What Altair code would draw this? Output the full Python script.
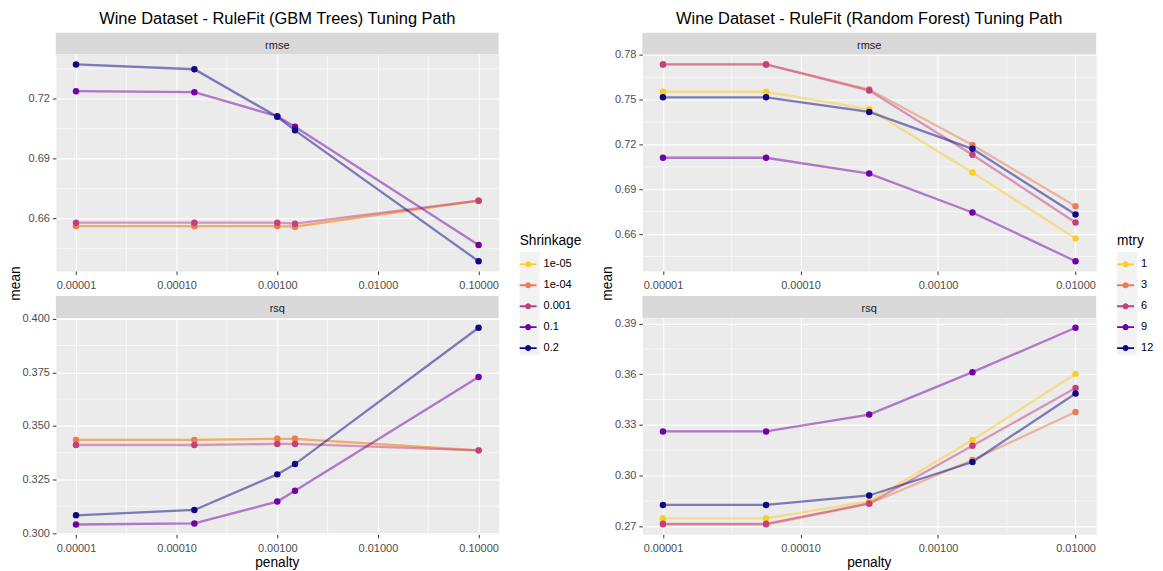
import altair as alt
import pandas as pd
import numpy as np

FONT = "Liberation Sans"

# ---------------- GBM (left) ----------------
gbm_penalty = [0.00001, 0.00015, 0.001, 0.0015, 0.1]
gbm_levels = ["1e-05", "1e-04", "0.001", "0.1", "0.2"]
gbm_rmse = {
    "1e-05": [0.6563, 0.6563, 0.6563, 0.6560, 0.6690],
    "1e-04": [0.6563, 0.6563, 0.6563, 0.6560, 0.6690],
    "0.001": [0.6580, 0.6580, 0.6580, 0.6575, 0.6690],
    "0.1":   [0.7238, 0.7233, 0.7113, 0.7060, 0.6468],
    "0.2":   [0.7372, 0.7348, 0.7110, 0.7042, 0.6387],
}
gbm_rsq = {
    "1e-05": [0.3435, 0.3435, 0.3440, 0.3440, 0.3386],
    "1e-04": [0.3435, 0.3435, 0.3440, 0.3440, 0.3386],
    "0.001": [0.3411, 0.3411, 0.3416, 0.3416, 0.3386],
    "0.1":   [0.3040, 0.3045, 0.3147, 0.3198, 0.3728],
    "0.2":   [0.3083, 0.3108, 0.3274, 0.3322, 0.3958],
}
gbm_xticks = [0.00001, 0.0001, 0.001, 0.01, 0.1]
gbm_xminor = [10 ** -4.5, 10 ** -3.5, 10 ** -2.5, 10 ** -1.5]
gbm_rmse_ticks = [0.66, 0.69, 0.72]
gbm_rmse_minor = [0.645, 0.675, 0.705, 0.735]
gbm_rsq_ticks = [0.300, 0.325, 0.350, 0.375, 0.400]
gbm_rsq_minor = [0.3125, 0.3375, 0.3625, 0.3875]

# ---------------- Random Forest (right) ----------------
rf_penalty = [0.00001, 0.0000562, 0.000316, 0.00178, 0.01]
rf_levels = ["1", "3", "6", "9", "12"]
rf_rmse = {
    "1":  [0.7553, 0.7553, 0.7436, 0.7012, 0.6571],
    "3":  [0.7736, 0.7736, 0.7568, 0.7196, 0.6786],
    "6":  [0.7736, 0.7736, 0.7561, 0.7131, 0.6677],
    "9":  [0.7111, 0.7111, 0.7005, 0.6744, 0.6418],
    "12": [0.7516, 0.7516, 0.7418, 0.7171, 0.6731],
}
rf_rsq = {
    "1":  [0.2747, 0.2747, 0.2847, 0.3210, 0.3602],
    "3":  [0.2710, 0.2710, 0.2833, 0.3092, 0.3376],
    "6":  [0.2714, 0.2714, 0.2835, 0.3176, 0.3518],
    "9":  [0.3261, 0.3261, 0.3361, 0.3612, 0.3875],
    "12": [0.2826, 0.2826, 0.2882, 0.3080, 0.3486],
}
rf_xticks = [0.00001, 0.0001, 0.001, 0.01]
rf_xminor = [10 ** -4.5, 10 ** -3.5, 10 ** -2.5]
rf_rmse_ticks = [0.66, 0.69, 0.72, 0.75, 0.78]
rf_rmse_minor = [0.645, 0.675, 0.705, 0.735, 0.765]
rf_rsq_ticks = [0.27, 0.30, 0.33, 0.36, 0.39]
rf_rsq_minor = [0.285, 0.315, 0.345, 0.375]

palette = ["#FCCE25", "#EE7B51", "#C43F80", "#7301A8", "#0D0887"]

# legend key: short horizontal bar with a dot in the middle
LEGEND_SYMBOL = ("M-1,-0.11L1,-0.11L1,0.11L-1,0.11Z"
                 "M-0.36,0A0.36,0.36,0,1,1,0.36,0A0.36,0.36,0,1,1,-0.36,0Z")


def long_df(penalty, levels, series):
    rows = []
    for lv in levels:
        for p, v in zip(penalty, series[lv]):
            rows.append({"penalty": p, "mean": v, "level": lv})
    return pd.DataFrame(rows)


def expand(vals, log=False):
    lo, hi = min(vals), max(vals)
    if log:
        lo, hi = np.log10(lo), np.log10(hi)
    pad = (hi - lo) * 0.05
    lo, hi = lo - pad, hi + pad
    if log:
        return [float(10 ** lo), float(10 ** hi)]
    return [float(lo), float(hi)]


def panel(df, penalty, xticks, xminor, yticks, yminor, yfmt, width, height,
          strip, levels, legend_title, top, title=None, mean_x=None,
          legend_xy=None, keybg=None):
    xscale = alt.Scale(type="log", domain=expand(penalty, log=True), nice=False, zero=False)
    yscale = alt.Scale(domain=expand(df["mean"].tolist()), nice=False, zero=False)
    xaxis = alt.Axis(values=xticks, format=".5f", title=None, grid=True)
    yaxis = alt.Axis(values=yticks, format=yfmt, title=None, grid=True)
    if top:
        legend = alt.Legend(
            orient="none", legendX=legend_xy[0], legendY=legend_xy[1],
            title=legend_title, symbolType=LEGEND_SYMBOL, symbolSize=289,
            symbolStrokeWidth=0, symbolOpacity=1, labelFontSize=11, titleFontSize=13.75,
            titleFontWeight="normal", titleColor="black", labelColor="black",
            labelOffset=7, rowPadding=7, titlePadding=8, padding=0,
            labelFont=FONT, titleFont=FONT,
        )
    else:
        legend = None
    color = alt.Color("level:N", scale=alt.Scale(domain=levels, range=palette),
                      sort=levels, legend=legend)

    one = pd.DataFrame({"s": [strip]})
    base = alt.Chart(df)
    layers = []
    if top:
        # grey key background of the legend column
        layers.append(
            alt.Chart(one).mark_rect(color="#F2F2F2")
            .encode(x=alt.value(keybg[0]), x2=alt.value(keybg[0] + 20),
                    y=alt.value(keybg[1]), y2=alt.value(keybg[1] + 103))
        )
    minor_x = (
        alt.Chart(pd.DataFrame({"penalty": xminor})).mark_rule(color="white", strokeWidth=0.6)
        .encode(x=alt.X("penalty:Q", scale=xscale, axis=xaxis))
    )
    minor_y = (
        alt.Chart(pd.DataFrame({"mean": yminor})).mark_rule(color="white", strokeWidth=0.6)
        .encode(y=alt.Y("mean:Q", scale=yscale, axis=yaxis))
    )
    lines = base.mark_line(strokeWidth=2.3, opacity=0.5).encode(
        x=alt.X("penalty:Q", scale=xscale, axis=xaxis),
        y=alt.Y("mean:Q", scale=yscale, axis=yaxis),
        color=color, detail="level:N",
    )
    points = base.mark_circle(size=42, opacity=1).encode(
        x=alt.X("penalty:Q", scale=xscale, axis=xaxis),
        y=alt.Y("mean:Q", scale=yscale, axis=yaxis),
        color=color,
    )
    layers += [minor_x, minor_y, lines, points]
    layers.append(
        alt.Chart(one).mark_rect(color="#D9D9D9")
        .encode(x=alt.value(0), x2=alt.value(width), y=alt.value(-22), y2=alt.value(0))
    )
    layers.append(
        alt.Chart(one).mark_text(fontSize=11, color="#1A1A1A", font=FONT, baseline="alphabetic")
        .encode(x=alt.value(width / 2), y=alt.value(-6), text="s:N")
    )
    if top:
        layers.append(
            alt.Chart(pd.DataFrame({"t": [title]})).mark_text(
                fontSize=16.5, color="black", font=FONT, baseline="alphabetic")
            .encode(x=alt.value(width / 2), y=alt.value(-30.5), text="t:N")
        )
        layers.append(
            alt.Chart(pd.DataFrame({"t": ["mean"]})).mark_text(
                fontSize=13.75, color="black", font=FONT, angle=270, baseline="alphabetic")
            .encode(x=alt.value(mean_x), y=alt.value(229.5), text="t:N")
        )
    else:
        layers.append(
            alt.Chart(pd.DataFrame({"t": ["penalty"]})).mark_text(
                fontSize=13.75, color="black", font=FONT, baseline="alphabetic")
            .encode(x=alt.value(width / 2), y=alt.value(height + 32.5), text="t:N")
        )
    return alt.layer(*layers).properties(width=width, height=height)


H = 217
WL = 444
WR = 455

gbm_r = long_df(gbm_penalty, gbm_levels, gbm_rmse)
gbm_q = long_df(gbm_penalty, gbm_levels, gbm_rsq)
rf_r = long_df(rf_penalty, rf_levels, rf_rmse)
rf_q = long_df(rf_penalty, rf_levels, rf_rsq)

p1 = panel(gbm_r, gbm_penalty, gbm_xticks, gbm_xminor, gbm_rmse_ticks, gbm_rmse_minor, ".2f",
           WL, H, "rmse", gbm_levels, "Shrinkage", True,
           title="Wine Dataset - RuleFit (GBM Trees) Tuning Path", mean_x=-36,
           legend_xy=(465, 180), keybg=(465, 198))
p2 = panel(rf_r, rf_penalty, rf_xticks, rf_xminor, rf_rmse_ticks, rf_rmse_minor, ".2f",
           WR, H, "rmse", rf_levels, "mtry", True,
           title="Wine Dataset - RuleFit (Random Forest) Tuning Path", mean_x=-30,
           legend_xy=(476, 180), keybg=(476, 198))
p3 = panel(gbm_q, gbm_penalty, gbm_xticks, gbm_xminor, gbm_rsq_ticks, gbm_rsq_minor, ".3f",
           WL, H, "rsq", gbm_levels, "Shrinkage", False)
p4 = panel(rf_q, rf_penalty, rf_xticks, rf_xminor, rf_rsq_ticks, rf_rsq_minor, ".2f",
           WR, H, "rsq", rf_levels, "mtry", False)

chart = alt.concat(
    p1, p2, p3, p4, columns=2, spacing={"row": 47, "column": 144}, bounds="flush"
).resolve_scale(
    color="independent", x="independent", y="independent"
).properties(
    padding={"left": 0, "top": 2, "right": 0, "bottom": 0}, background="white"
).configure(font=FONT).configure_view(
    fill="#EBEBEB", stroke="transparent"
).configure_axis(
    domain=False, tickColor="#333333", tickSize=3.5, tickWidth=1,
    labelColor="#4D4D4D", labelFontSize=11, labelFont=FONT,
    gridColor="white", gridWidth=1.1,
).configure_axisX(labelPadding=5).configure_axisY(labelPadding=3)

chart.save("out.html", embed_options={"renderer": "svg", "actions": False})
